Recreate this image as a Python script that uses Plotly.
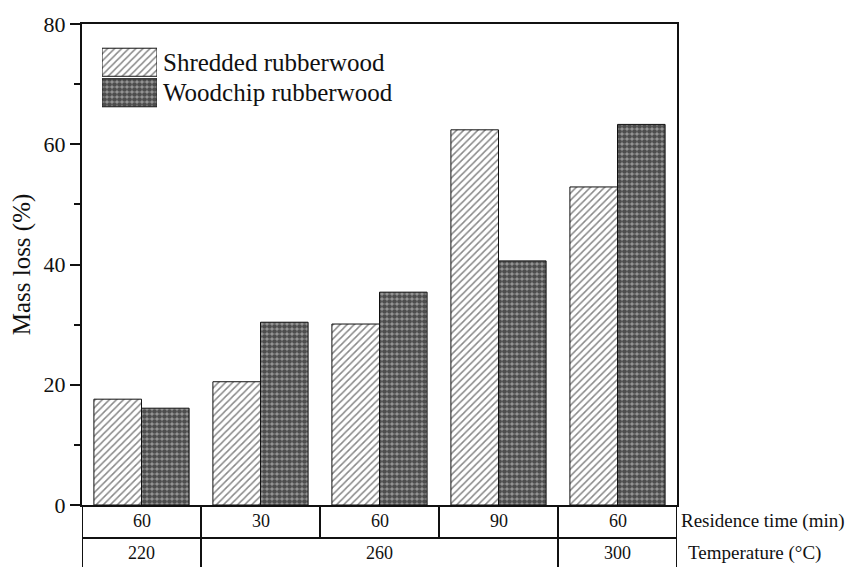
import plotly.graph_objects as go

# Experimental conditions (one group per condition)
residence_time = ["60", "30", "60", "90", "60"]
temperature_labels = ["220", "260", "300"]
temperature_span = [(0, 0), (1, 3), (4, 4)]  # group index range covered by each temperature

series_names = ["Shredded rubberwood", "Woodchip rubberwood"]
shredded = [17.6, 20.5, 30.1, 62.4, 52.9]
woodchip = [16.1, 30.4, 35.4, 40.6, 63.3]

FONT = "Liberation Serif"
INK = "#111111"

hatch = dict(shape="/", fgcolor="#111111", bgcolor="white", size=5, solidity=0.3)
dots = dict(shape=".", fgcolor="#000000", bgcolor="#9a9a9a", size=5, solidity=0.7)

x_pos = list(range(len(residence_time)))

fig = go.Figure()
fig.add_trace(go.Bar(
    x=x_pos, y=shredded, name=series_names[0],
    marker=dict(color="white", pattern=hatch, line=dict(color=INK, width=1)),
    showlegend=False,
))
fig.add_trace(go.Bar(
    x=x_pos, y=woodchip, name=series_names[1],
    marker=dict(color="white", pattern=dots, line=dict(color=INK, width=1)),
    showlegend=False,
))

# Legend swatches drawn as bars on a small hidden axis pair
fig.add_trace(go.Bar(
    x=[1], y=[1], orientation="h", width=0.92, xaxis="x2", yaxis="y2",
    marker=dict(color="white", pattern=hatch, line=dict(color=INK, width=1)),
    showlegend=False, hoverinfo="skip",
))
fig.add_trace(go.Bar(
    x=[1], y=[0], orientation="h", width=0.92, xaxis="x2", yaxis="y2",
    marker=dict(color="white", pattern=dots, line=dict(color=INK, width=1)),
    showlegend=False, hoverinfo="skip",
))

L, R, T, B = 82, 181, 24, 62
W, H = 858, 567
plot_w = W - L - R
plot_h = H - T - B

def py(px_from_top):
    """Convert a pixel row (from the top of the page) to paper y."""
    return (H - B - px_from_top) / plot_h

def px(px_from_left):
    return (px_from_left - L) / plot_w

annotations = []
for i, (name, yc) in enumerate(zip(series_names, [62, 93])):
    annotations.append(dict(
        x=px(161), y=py(yc), xref="paper", yref="paper", text=name,
        showarrow=False, xanchor="left", yanchor="middle",
        font=dict(family=FONT, size=25, color=INK),
    ))

# Conditions table under the axis
row_div = py(538)
row_bot = py(570)
shapes = []
line = dict(color=INK, width=2)
shapes.append(dict(type="line", xref="x", yref="paper", x0=-0.5, x1=4.5,
                   y0=row_div, y1=row_div, line=line))
for xb in [-0.5, 4.5]:
    shapes.append(dict(type="line", xref="x", yref="paper", x0=xb, x1=xb,
                       y0=0, y1=row_bot, line=line))
for xb in [0.5, 1.5, 2.5, 3.5]:
    shapes.append(dict(type="line", xref="x", yref="paper", x0=xb, x1=xb,
                       y0=0, y1=row_div, line=line))
for a, b in temperature_span[:-1]:
    xb = b + 0.5
    shapes.append(dict(type="line", xref="x", yref="paper", x0=xb, x1=xb,
                       y0=row_div, y1=row_bot, line=line))

for i, t in enumerate(residence_time):
    annotations.append(dict(
        x=i, y=py(521), xref="x", yref="paper", text=t, showarrow=False,
        xanchor="center", yanchor="middle",
        font=dict(family=FONT, size=18, color=INK),
    ))
for lab, (a, b) in zip(temperature_labels, temperature_span):
    annotations.append(dict(
        x=(a + b) / 2, y=py(553), xref="x", yref="paper", text=lab, showarrow=False,
        xanchor="center", yanchor="middle",
        font=dict(family=FONT, size=18, color=INK),
    ))
annotations.append(dict(
    x=px(679), y=py(521), xref="paper", yref="paper", text="Residence time (min)",
    showarrow=False, xanchor="left", yanchor="middle",
    font=dict(family=FONT, size=19, color=INK),
))
annotations.append(dict(
    x=px(686), y=py(553), xref="paper", yref="paper", text="Temperature (°C)",
    showarrow=False, xanchor="left", yanchor="middle",
    font=dict(family=FONT, size=19, color=INK),
))

fig.update_layout(
    width=W, height=H,
    margin=dict(l=L, r=R, t=T, b=B),
    paper_bgcolor="white", plot_bgcolor="white",
    barmode="group", bargap=0.2, bargroupgap=0,
    font=dict(family=FONT, color=INK),
    xaxis=dict(
        range=[-0.5, 4.5], showticklabels=False, ticks="", showgrid=False,
        zeroline=False, showline=True, linecolor=INK, linewidth=2, mirror=True,
    ),
    yaxis=dict(
        range=[0, 80], tickvals=[0, 20, 40, 60, 80], ticks="outside",
        ticklen=10, tickwidth=2, tickcolor=INK,
        minor=dict(tickvals=[10, 30, 50, 70], ticks="outside", ticklen=6,
                   tickwidth=2, tickcolor=INK),
        showgrid=False, zeroline=False, showline=True, linecolor=INK,
        linewidth=2, mirror=True,
        tickfont=dict(family=FONT, size=22, color=INK),
        title=dict(text="Mass loss (%)", font=dict(family=FONT, size=25, color=INK),
                   standoff=6),
    ),
    xaxis2=dict(domain=[px(102), px(157)], range=[0, 1], visible=False,
                anchor="y2", fixedrange=True),
    yaxis2=dict(domain=[py(108), py(47)], range=[-0.5, 1.5], visible=False,
                anchor="x2", fixedrange=True),
    shapes=shapes,
    annotations=annotations,
)

fig.write_html("out.html")
